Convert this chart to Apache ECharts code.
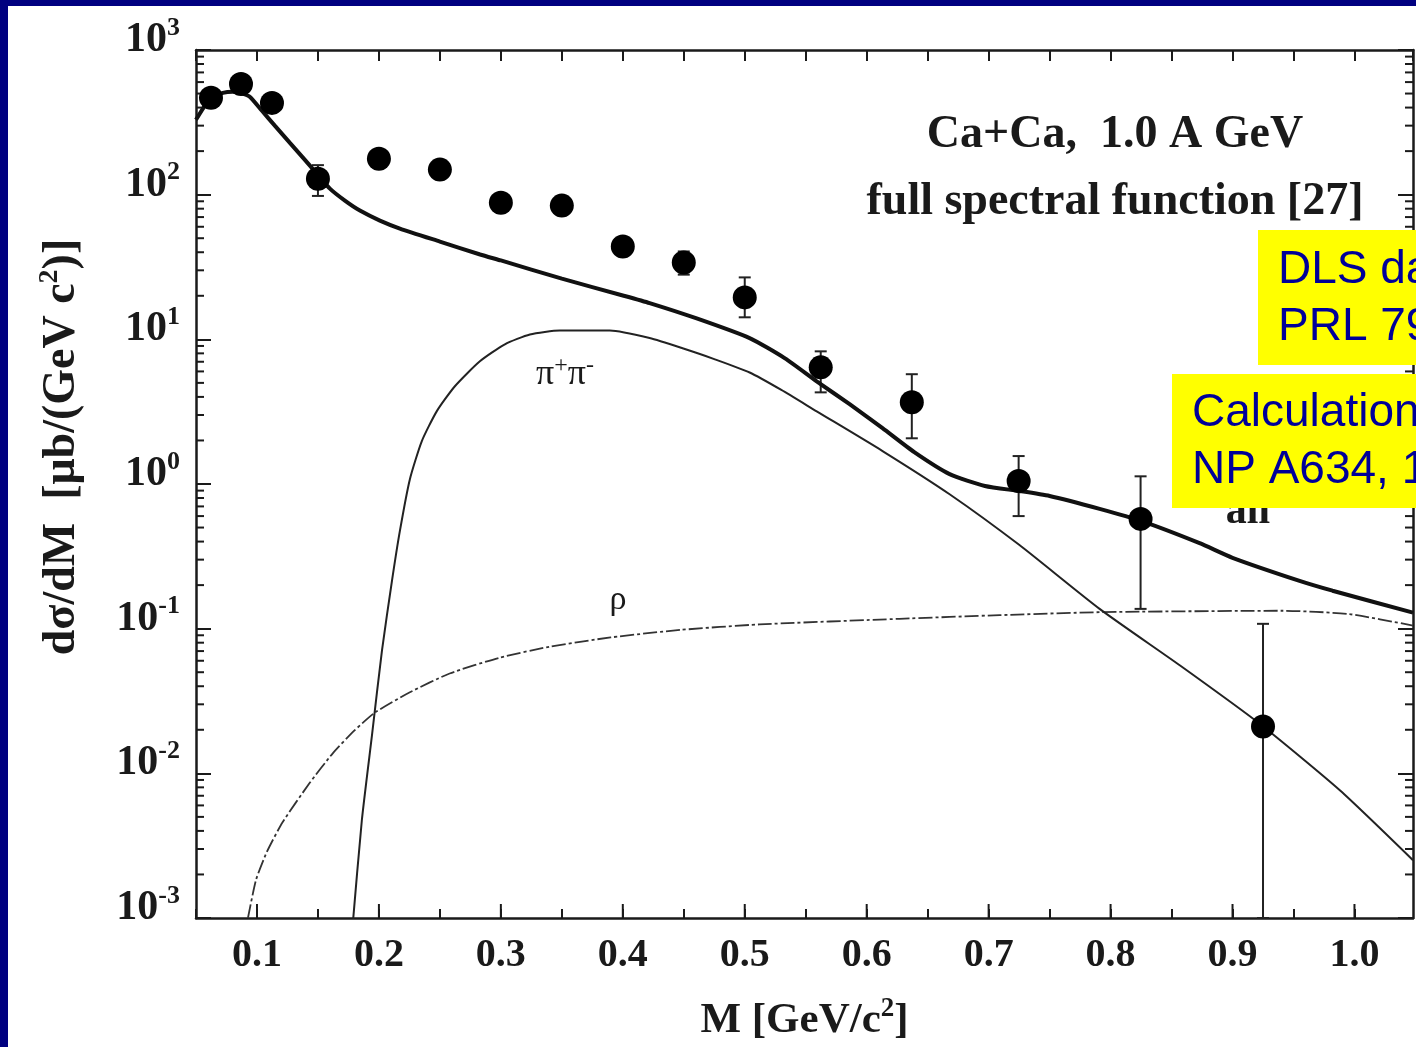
<!DOCTYPE html>
<html>
<head>
<meta charset="utf-8">
<script src="https://cdn.jsdelivr.net/npm/echarts@6.0.0/dist/echarts.min.js"></script>
<style>
  html, body { margin: 0; padding: 0; background: #000080; }
  #chart { width: 1416px; height: 1047px; }
</style>
</head>
<body>
<div id="chart"></div>
<script>
// DLS data points (Ca+Ca, 1.0 A GeV)
const dataM = [0.0623, 0.0869, 0.1123, 0.150, 0.200, 0.250, 0.300, 0.350, 0.400, 0.450, 0.500, 0.5623, 0.637, 0.7246, 0.8246, 0.925];
const dataV = [467, 583, 431, 129, 177, 149, 88, 84, 43.8, 34, 19.5, 6.4, 3.68, 1.05, 0.574, 0.0211];

// error bars (only where visible outside the markers)
const errM = [0.150, 0.450, 0.500, 0.5623, 0.637, 0.7246, 0.8246, 0.925];
const errLow = [98, 28, 14.2, 4.3, 2.07, 0.60, 0.137, 0.001];
const errHigh = [160, 40.5, 26.8, 8.26, 5.74, 1.56, 1.13, 0.108];

// "all" curve
const allM = [0.05, 0.058, 0.065, 0.072, 0.08, 0.088, 0.0943, 0.1041, 0.1148, 0.127, 0.1393, 0.15, 0.1598, 0.1721, 0.1844, 0.2008, 0.2172, 0.25, 0.283, 0.3, 0.35, 0.4, 0.422, 0.46, 0.504, 0.533, 0.559, 0.586, 0.613, 0.639, 0.668, 0.697, 0.725, 0.75, 0.791, 0.825, 0.873, 0.9, 0.955, 0.982, 1.048];
const allV = [329, 420, 474, 505, 515, 500, 474, 380, 299, 228, 174, 137, 110, 90.9, 77.6, 66.2, 58.3, 47.4, 38.6, 35.1, 26.3, 20.1, 17.8, 14.0, 10.2, 7.39, 5.13, 3.56, 2.43, 1.66, 1.17, 0.968, 0.895, 0.826, 0.673, 0.556, 0.39, 0.309, 0.214, 0.183, 0.129];

// pi+ pi- curve
const pipiM = [0.178, 0.186, 0.1943, 0.2025, 0.2107, 0.2172, 0.2254, 0.2352, 0.2475, 0.2623, 0.2828, 0.3033, 0.3238, 0.3484, 0.3893, 0.422, 0.449, 0.475, 0.504, 0.53, 0.559, 0.613, 0.668, 0.725, 0.791, 0.857, 0.922, 0.988, 1.048];
const pipiV = [0.0008, 0.00474, 0.0183, 0.0705, 0.214, 0.474, 1.08, 1.98, 3.19, 4.74, 7.05, 9.24, 10.8, 11.5, 11.5, 10.2, 8.67, 7.3, 5.9, 4.47, 3.18, 1.69, 0.85, 0.38, 0.137, 0.0556, 0.0221, 0.00764, 0.00251];

// rho curve
const rhoM = [0.0926, 0.0992, 0.108, 0.121, 0.143, 0.162, 0.18, 0.197, 0.225, 0.258, 0.299, 0.34, 0.39, 0.447, 0.512, 0.627, 0.709, 0.791, 0.941, 0.996, 1.048];
const rhoV = [0.001, 0.00183, 0.00285, 0.00459, 0.00853, 0.0137, 0.0198, 0.0264, 0.0362, 0.049, 0.063, 0.075, 0.087, 0.098, 0.107, 0.117, 0.124, 0.13, 0.133, 0.126, 0.105];

// axis structure
const xMajorTicks = [0.1, 0.2, 0.3, 0.4, 0.5, 0.6, 0.7, 0.8, 0.9, 1.0];
const minorMultipliers = [2, 3, 4, 5, 6, 7, 8, 9];
const decades = [-3, -2, -1, 0, 1, 2];

const SERIF = '"Liberation Serif", "DejaVu Serif", serif';
const SANS = '"Liberation Sans", Arial, sans-serif';
const INK = '#1a1a1a';

const pairs = (xs, ys) => xs.map((x, i) => [x, ys[i]]);

const yMinor = [];
decades.forEach(d => minorMultipliers.forEach(m => yMinor.push([0.5, m * Math.pow(10, d)])));

const chart = echarts.init(document.getElementById('chart'));

const option = {
  backgroundColor: '#000080',
  animation: false,
  grid: { left: 196, top: 50, right: 3, bottom: 129, show: false },
  xAxis: [{
    type: 'value', min: 0.05, max: 1.048, interval: 0.05, position: 'bottom',
    axisLine: { lineStyle: { color: INK, width: 2.5 } },
    axisTick: { inside: true, length: 9, lineStyle: { color: INK, width: 2 } },
    splitLine: { show: false },
    axisLabel: {
      margin: 18, color: INK, fontFamily: SERIF, fontWeight: 'bold', fontSize: 40,
      showMaxLabel: false,
      formatter: v => (Math.round(v * 100) % 10 === 0 ? v.toFixed(1) : '')
    },
    name: '{n|M [GeV/c}{s|2}{n|]}', nameLocation: 'middle', nameGap: 78,
    nameTextStyle: {
      rich: {
        n: { fontFamily: SERIF, fontWeight: 'bold', fontSize: 43, color: INK },
        s: { fontFamily: SERIF, fontWeight: 'bold', fontSize: 27, color: INK, padding: [0, 0, 22, 0] }
      }
    }
  }, {
    type: 'value', min: 0.05, max: 1.048, interval: 0.05, position: 'top',
    axisLine: { lineStyle: { color: INK, width: 2.5 } },
    axisTick: { inside: true, length: 11, lineStyle: { color: INK, width: 2 } },
    axisLabel: { show: false }, splitLine: { show: false }
  }],
  yAxis: [{
    type: 'log', logBase: 10, min: 0.001, max: 1000, position: 'left',
    axisLine: { show: true, lineStyle: { color: INK, width: 2.5 } },
    axisTick: { show: true, inside: true, length: 15, lineStyle: { color: INK, width: 2 } },
    splitLine: { show: false },
    axisLabel: {
      margin: 16, padding: [0, 0, 20, 0],
      formatter: v => '{b|10}{s|' + Math.round(Math.log10(v)) + '}',
      rich: {
        b: { fontFamily: SERIF, fontWeight: 'bold', fontSize: 42, color: INK },
        s: { fontFamily: SERIF, fontWeight: 'bold', fontSize: 26, color: INK, padding: [0, 0, 24, 0] }
      }
    }
  }, {
    type: 'log', logBase: 10, min: 0.001, max: 1000, position: 'right',
    axisLine: { show: true, lineStyle: { color: INK, width: 2.5 } },
    axisTick: { show: true, inside: true, length: 15, lineStyle: { color: INK, width: 2 } },
    axisLabel: { show: false }, splitLine: { show: false }
  }],
  graphic: [
    { type: 'rect', left: 8, top: 6, shape: { width: 1408, height: 1041 }, style: { fill: '#ffffff' }, z: -100, silent: true },
    {
      type: 'text', x: 62, y: 447, rotation: Math.PI / 2, z: 5,
      style: {
        text: '{n|dσ/dM  [μb/(GeV c}{s|2}{n|)]}', align: 'center', verticalAlign: 'middle',
        rich: {
          n: { fontFamily: SERIF, fontWeight: 'bold', fontSize: 46, fill: INK },
          s: { fontFamily: SERIF, fontWeight: 'bold', fontSize: 28, fill: INK, padding: [0, 0, 24, 0] }
        }
      }
    },
    { type: 'text', x: 1115, y: 135, z: 5, style: { text: 'Ca+Ca,  1.0 A GeV', align: 'center', verticalAlign: 'middle', font: 'bold 46px ' + SERIF, fill: INK } },
    { type: 'text', x: 1115, y: 202, z: 5, style: { text: 'full spectral function [27]', align: 'center', verticalAlign: 'middle', font: 'bold 46px ' + SERIF, fill: INK } },
    {
      type: 'text', x: 565, y: 375, z: 5,
      style: {
        text: '{a|π}{s|+}{a|π}{s|-}', align: 'center', verticalAlign: 'middle',
        rich: {
          a: { fontFamily: SERIF, fontSize: 36, fill: INK },
          s: { fontFamily: SERIF, fontSize: 24, fill: INK, padding: [0, 0, 18, 0] }
        }
      }
    },
    { type: 'text', x: 618, y: 600, z: 5, style: { text: 'ρ', align: 'center', verticalAlign: 'middle', font: '34px ' + SERIF, fill: INK } },
    { type: 'text', x: 1248, y: 512, z: 5, style: { text: 'all', align: 'center', verticalAlign: 'middle', font: 'bold 42px ' + SERIF, fill: INK } },
    { type: 'rect', left: 1258, top: 230, shape: { width: 170, height: 135 }, style: { fill: '#ffff00' }, z: 100 },
    { type: 'text', x: 1278, y: 270, z: 101, style: { text: 'DLS data', align: 'left', verticalAlign: 'middle', font: '46px ' + SANS, fill: '#000099' } },
    { type: 'text', x: 1278, y: 327, z: 101, style: { text: 'PRL 79, 1229 (1997)', align: 'left', verticalAlign: 'middle', font: '46px ' + SANS, fill: '#000099' } },
    { type: 'rect', left: 1172, top: 374, shape: { width: 260, height: 134 }, style: { fill: '#ffff00' }, z: 100 },
    { type: 'text', x: 1192, y: 413, z: 101, style: { text: 'Calculation: Bratkovskaya et al.', align: 'left', verticalAlign: 'middle', font: '46px ' + SANS, fill: '#000099' } },
    { type: 'text', x: 1192, y: 470, z: 101, style: { text: 'NP A634, 168 (1998)', align: 'left', verticalAlign: 'middle', font: '46px ' + SANS, fill: '#000099' } }
  ],
  series: [
    {
      name: 'yMinorTicks', type: 'custom', silent: true, z: 1, clip: false,
      data: yMinor,
      renderItem: (params, api) => {
        const cs = params.coordSys;
        const y = api.coord([0.5, api.value(1)])[1];
        const st = { stroke: INK, lineWidth: 2 };
        return {
          type: 'group', children: [
            { type: 'line', shape: { x1: cs.x, y1: y, x2: cs.x + 8, y2: y }, style: st },
            { type: 'line', shape: { x1: cs.x + cs.width - 8, y1: y, x2: cs.x + cs.width, y2: y }, style: st }
          ]
        };
      }
    },
    {
      name: 'xMajorTicks', type: 'custom', silent: true, z: 1, clip: false,
      data: xMajorTicks.map(v => [v, 1]),
      renderItem: (params, api) => {
        const cs = params.coordSys;
        const x = api.coord([api.value(0), 1])[0];
        const yb = cs.y + cs.height;
        return { type: 'line', shape: { x1: x, y1: yb, x2: x, y2: yb - 14 }, style: { stroke: INK, lineWidth: 2 } };
      }
    },
    {
      name: 'rho', type: 'line', data: pairs(rhoM, rhoV), showSymbol: false, smooth: 0.2,
      lineStyle: { color: '#333', width: 1.8, type: [14, 3, 3, 3] }
    },
    {
      name: 'pipi', type: 'line', data: pairs(pipiM, pipiV), showSymbol: false, smooth: 0.2,
      lineStyle: { color: '#222', width: 2 }
    },
    {
      name: 'all', type: 'line', data: pairs(allM, allV), showSymbol: false, smooth: 0.2,
      lineStyle: { color: '#111', width: 4 }
    },
    {
      name: 'errors', type: 'custom', z: 3,
      data: errM.map((m, i) => [m, errLow[i], errHigh[i]]),
      renderItem: (params, api) => {
        const lo = api.coord([api.value(0), api.value(1)]);
        const hi = api.coord([api.value(0), api.value(2)]);
        const st = { stroke: '#222', lineWidth: 2 };
        return {
          type: 'group', children: [
            { type: 'line', shape: { x1: lo[0], y1: lo[1], x2: hi[0], y2: hi[1] }, style: st },
            { type: 'line', shape: { x1: lo[0] - 6, y1: lo[1], x2: lo[0] + 6, y2: lo[1] }, style: st },
            { type: 'line', shape: { x1: hi[0] - 6, y1: hi[1], x2: hi[0] + 6, y2: hi[1] }, style: st }
          ]
        };
      }
    },
    {
      name: 'DLS', type: 'scatter', z: 4, data: pairs(dataM, dataV),
      symbol: 'circle', symbolSize: 24, itemStyle: { color: '#000', opacity: 1 }
    }
  ]
};

chart.setOption(option);
</script>
</body>
</html>
